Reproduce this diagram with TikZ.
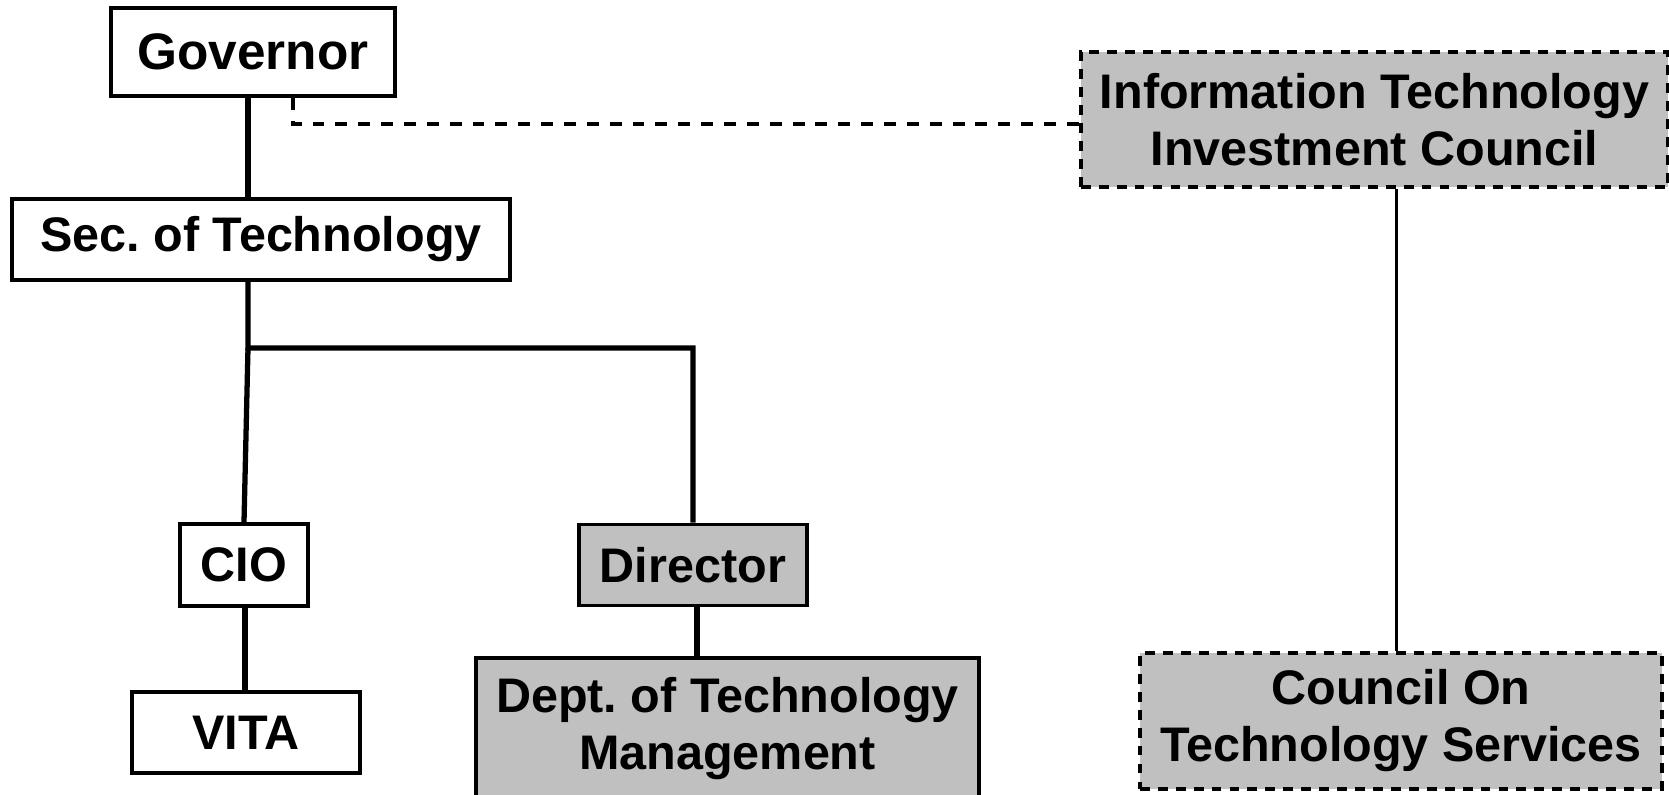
\documentclass[tikz,border=0pt]{standalone}
\usepackage{fontspec}
\setmainfont{Liberation Sans}
\usepackage{tikz}
\frenchspacing
\definecolor{boxgray}{RGB}{192,192,192}
\tikzstyle{box}=[shape=rectangle, draw, line width=1pt, inner sep=0, align=center, font=\bfseries\fontsize{13.8}{16.2}\selectfont]
\tikzstyle{greybox}=[box, fill=boxgray]
\tikzstyle{council}=[greybox, dash pattern=on 2.8pt off 2.3pt]
\tikzstyle{link}=[line width=1.5pt]
\tikzstyle{thinlink}=[line width=1pt]

\begin{document}
\begin{tikzpicture}[x=0.01cm,y=-0.01cm]
\useasboundingbox (0,0) rectangle (1669,795);
\node[box, minimum width=2.84cm, minimum height=0.88cm, font=\bfseries\fontsize{14.6}{16.2}\selectfont] (gov) at (253,52) {Governor};
\node[box, minimum width=4.98cm, minimum height=0.81cm] (sec) at (261,239.5) {Sec. of Technology};
\node[box, minimum width=1.28cm, minimum height=0.82cm] (cio) at (244,565) {CIO};
\node[box, minimum width=2.28cm, minimum height=0.81cm] (vita) at (246,732.5) {VITA};
\node[greybox, minimum width=2.28cm, minimum height=0.81cm] (dir) at (693,565) {Director};
\node[greybox, minimum width=5.03cm, minimum height=1.42cm] (dept) at (727.5,729) {Dept. of Technology\\Management};
\node[council, minimum width=5.87cm, minimum height=1.35cm] (itic) at (1374.5,119.5) {Information Technology\\Investment Council};
\node[council, minimum width=5.22cm, minimum height=1.36cm] (cots) at (1401,721) {Council On\\Technology Services};
\coordinate (split) at (248,348);
% lines
\draw[link] ([xshift=-0.05cm]gov.south) -- ([xshift=-0.05cm]gov.south |- sec.north);
\draw[link] ([xshift=-0.13cm]sec.south) -- (split) -| (dir.north);
\draw[link] (split) -- (cio.north);
\draw[link] ([xshift=0.01cm]cio.south) -- ([xshift=0.01cm]cio.south |- vita.north);
\draw[link] ([xshift=0.04cm]dir.south) -- ([xshift=0.04cm]dir.south |- dept.north);
\draw[thinlink] ([xshift=0.22cm]itic.south) -- ([xshift=0.22cm]itic.south |- cots.north);
\draw[thinlink, dash pattern=on 3.4pt off 3.1pt] ([xshift=0.4cm]gov.south) |- ([yshift=-0.045cm]itic.west);
\end{tikzpicture}
\end{document}
